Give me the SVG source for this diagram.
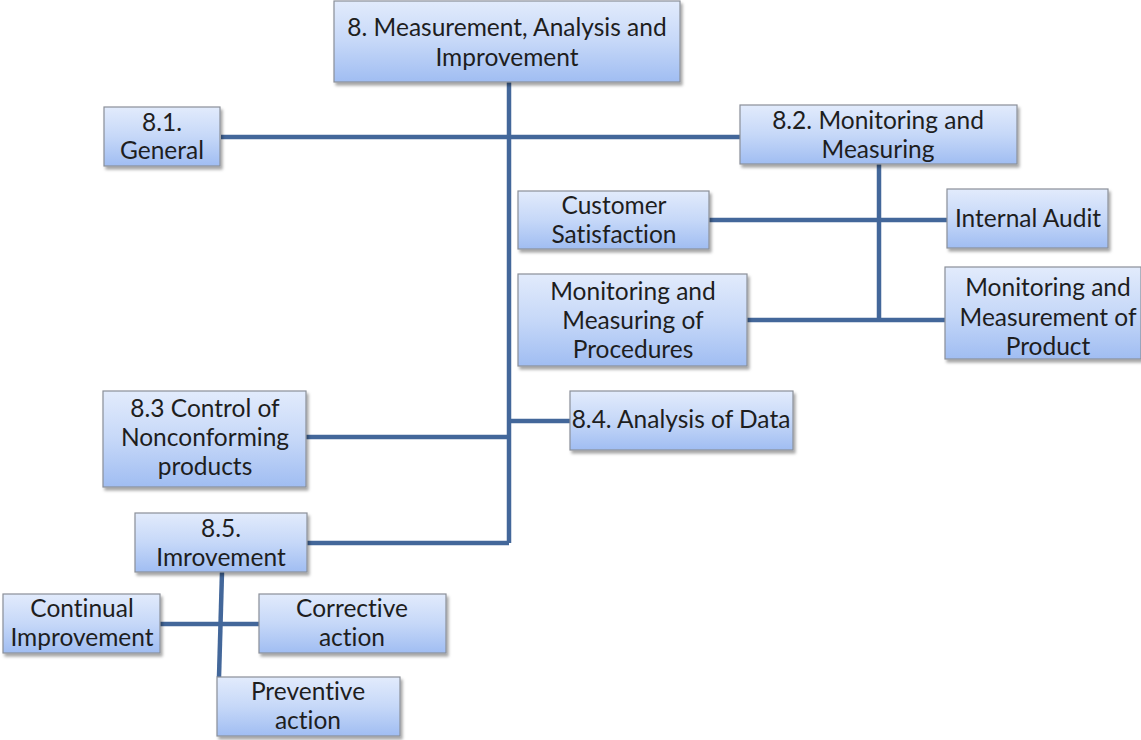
<svg xmlns="http://www.w3.org/2000/svg" width="1141" height="740" viewBox="0 0 1141 740">
<defs>
<linearGradient id="g" x1="0" y1="0" x2="0" y2="1">
<stop offset="0" stop-color="#e2ebfc"/>
<stop offset="0.5" stop-color="#c6d8f8"/>
<stop offset="1" stop-color="#a0bdf2"/>
</linearGradient>
<filter id="sh" x="-10%" y="-10%" width="130%" height="140%">
<feDropShadow dx="2" dy="3" stdDeviation="1.5" flood-color="#000" flood-opacity="0.35"/>
</filter>
</defs>
<style>
.b{fill:url(#g);stroke:#8a8f98;stroke-width:1.2;filter:url(#sh)}
.t{font-family:"Lato","Liberation Sans",sans-serif;font-size:24.5px;fill:#1e1e1e;text-anchor:middle;font-variant-ligatures:none}
.c{stroke:#43679a;stroke-width:4.5;fill:none}
</style>
<rect width="1141" height="740" fill="#fff"/>
<g id="connectors">
<path class="c" d="M509 82V543"/>
<path class="c" d="M221 137H740"/>
<path class="c" d="M879 164V320"/>
<path class="c" d="M709 220H947"/>
<path class="c" d="M747 320H945"/>
<path class="c" d="M306 437H509"/>
<path class="c" d="M509 421H570"/>
<path class="c" d="M307 543H509"/>
<path class="c" d="M222 572L219 677"/>
<path class="c" d="M160 624H259"/>
</g>
<g id="n8"><rect class="b" x="334" y="1" width="346" height="81"/><text class="t" x="507" y="36">8. Measurement, Analysis and</text><text class="t" x="507" y="66">Improvement</text></g>
<g id="n81"><rect class="b" x="104" y="107" width="116" height="59"/><text class="t" x="162" y="131">8.1.</text><text class="t" x="162" y="159">General</text></g>
<g id="n82"><rect class="b" x="740" y="105" width="277" height="59"/><text class="t" x="878" y="129">8.2. Monitoring and</text><text class="t" x="878" y="158">Measuring</text></g>
<g id="ncs"><rect class="b" x="518" y="191" width="191" height="58"/><text class="t" x="614" y="214">Customer</text><text class="t" x="614" y="243">Satisfaction</text></g>
<g id="nia"><rect class="b" x="947" y="189" width="161" height="59"/><text class="t" x="1028" y="227">Internal Audit</text></g>
<g id="nmp"><rect class="b" x="518" y="274" width="229" height="92"/><text class="t" x="633" y="300">Monitoring and</text><text class="t" x="633" y="329">Measuring of</text><text class="t" x="633" y="358">Procedures</text></g>
<g id="nmpr"><rect class="b" x="945" y="267" width="196" height="92"/><text class="t" x="1048" y="296">Monitoring and</text><text class="t" x="1048" y="326">Measurement of</text><text class="t" x="1048" y="355">Product</text></g>
<g id="n83"><rect class="b" x="103" y="391" width="203" height="96"/><text class="t" x="205" y="417">8.3 Control of</text><text class="t" x="205" y="446">Nonconforming</text><text class="t" x="205" y="475">products</text></g>
<g id="n84"><rect class="b" x="570" y="391" width="223" height="59"/><text class="t" x="681" y="428">8.4. Analysis of Data</text></g>
<g id="n85"><rect class="b" x="135" y="513" width="172" height="59"/><text class="t" x="221" y="537">8.5.</text><text class="t" x="221" y="566">Imrovement</text></g>
<g id="nci"><rect class="b" x="3" y="594" width="157" height="59"/><text class="t" x="82" y="617">Continual</text><text class="t" x="82" y="646">Improvement</text></g>
<g id="nca"><rect class="b" x="259" y="594" width="187" height="59"/><text class="t" x="352" y="617">Corrective</text><text class="t" x="352" y="646">action</text></g>
<g id="npa"><rect class="b" x="217" y="677" width="183" height="59"/><text class="t" x="308" y="700">Preventive</text><text class="t" x="308" y="729">action</text></g>
</svg>
